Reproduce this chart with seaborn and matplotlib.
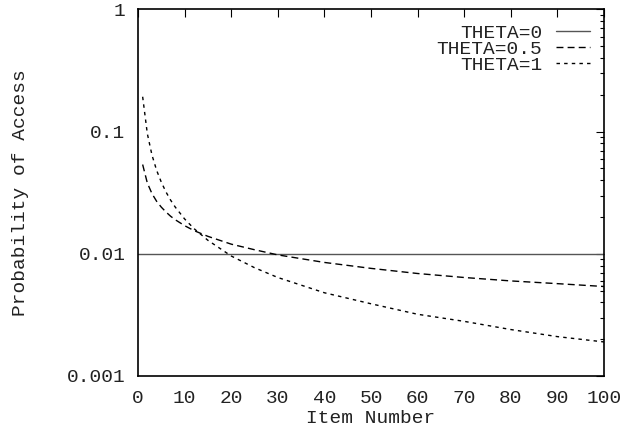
import numpy as np
import pandas as pd
import matplotlib
matplotlib.use("Agg")
import matplotlib.pyplot as plt
import seaborn as sns
from matplotlib.ticker import LogLocator, FixedLocator, NullFormatter

# Data
items0 = [0, 100]
theta0 = [0.01, 0.01]
items = [1, 2, 3, 4, 5, 6, 7, 8, 10, 12, 15, 20, 25, 30, 40, 50, 60, 70, 80, 90, 100]
theta05 = [0.0538, 0.0380, 0.0311, 0.0269, 0.0241, 0.0220, 0.0203, 0.0190, 0.0170,
           0.0155, 0.0139, 0.0120, 0.0108, 0.0098, 0.0085, 0.0076, 0.0069, 0.0064,
           0.0060, 0.0057, 0.0054]
theta1 = [0.193, 0.0964, 0.0643, 0.0482, 0.0386, 0.0321, 0.0275, 0.0241, 0.0193,
          0.0161, 0.0129, 0.0096, 0.0077, 0.0064, 0.0048, 0.0039, 0.0032, 0.0028,
          0.0024, 0.0021, 0.0019]
labels = ["THETA=0", "THETA=0.5", "THETA=1"]
x_ticks = [0, 10, 20, 30, 40, 50, 60, 70, 80, 90, 100]
y_ticks = [0.001, 0.01, 0.1, 1]
y_tick_labels = ["0.001", "0.01", "0.1", "1"]

df = pd.DataFrame({
    "Item": items0 + items + items,
    "Prob": theta0 + theta05 + theta1,
    "Series": [labels[0]] * len(items0) + [labels[1]] * len(items) + [labels[2]] * len(items),
})

sns.set_style("white")
plt.rcParams["font.family"] = ["Liberation Mono", "DejaVu Sans Mono"]
plt.rcParams["font.size"] = 14

fig = plt.figure(figsize=(6.23, 4.30), dpi=100)
ax = fig.add_axes([0.2215, 0.1256, 0.9695 - 0.2215, 0.978 - 0.1256])

sns.lineplot(data=df, x="Item", y="Prob", hue="Series", style="Series",
             palette={labels[0]: "#555555", labels[1]: "black", labels[2]: "black"},
             dashes={labels[0]: "", labels[1]: (5, 3), labels[2]: (2.5, 3)},
             linewidth=1, ax=ax, legend=True)

ax.set_yscale("log")
ax.set_xlim(0, 100)
ax.set_ylim(0.001, 1)
ax.xaxis.set_major_locator(FixedLocator(x_ticks))
ax.set_xticklabels([str(t) for t in x_ticks])
ax.yaxis.set_major_locator(FixedLocator(y_ticks))
ax.set_yticklabels(y_tick_labels)
ax.yaxis.set_minor_locator(LogLocator(base=10, subs=np.arange(2, 10)))
ax.yaxis.set_minor_formatter(NullFormatter())

ax.tick_params(which="both", direction="in", top=True, right=True, colors="black",
               labelcolor="#222222")
ax.tick_params(which="major", length=6, width=0.8)
ax.tick_params(which="minor", length=3, width=0.8)
ax.tick_params(axis="y", which="major", pad=9)
ax.tick_params(axis="x", which="major", pad=10)

for s in ax.spines.values():
    s.set_color("black")
    s.set_linewidth(1.2)

ax.set_xlabel("Item Number", labelpad=2, color="#222222")
ax.set_ylabel("Probability of Access", labelpad=27, color="#222222")

handles, labs = ax.get_legend_handles_labels()
leg = ax.legend(handles, labs, loc="upper right", frameon=False, markerfirst=False,
                handlelength=1.75, handletextpad=0.7, labelspacing=-0.1,
                bbox_to_anchor=(0.986, 0.98), borderaxespad=0.0)
for t in leg.get_texts():
    t.set_ha("right")
    t.set_color("#222222")

fig.savefig("out.png", dpi=100)
